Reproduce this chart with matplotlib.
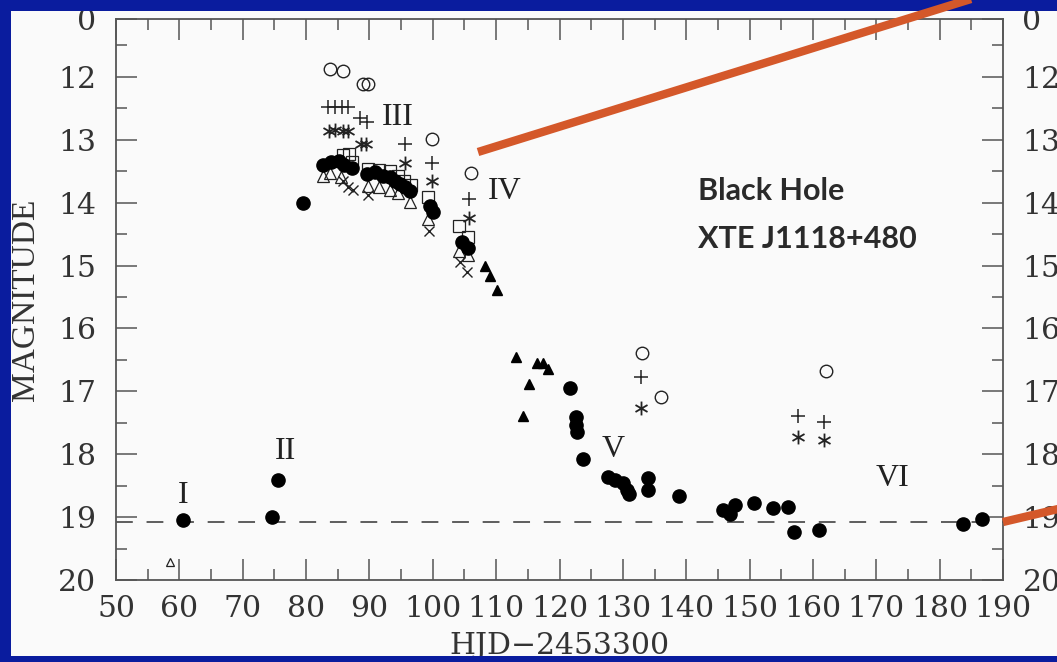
import numpy as np
import matplotlib
matplotlib.use("Agg")
import matplotlib.pyplot as plt
from matplotlib.path import Path
from matplotlib.patches import Rectangle
from matplotlib.lines import Line2D

# V band (filled circles)
v_hjd = [60.6, 74.6, 75.6, 79.5, 82.6, 84.0, 85.2, 86.0, 87.3, 89.6, 90.9, 92.1,
         93.2, 94.0, 94.8, 95.6, 96.4, 99.5, 100.0, 104.6, 105.6, 121.7, 122.6,
         122.6, 122.7, 123.7, 127.7, 128.8, 130.0, 130.6, 131.0, 134.0, 134.0,
         138.9, 145.8, 146.9, 147.7, 150.7, 153.7, 156.1, 157.0, 161.0, 183.7, 186.7]
v_mag = [19.05, 19.00, 18.41, 14.00, 13.40, 13.35, 13.33, 13.40, 13.45, 13.54, 13.52, 13.57,
         13.60, 13.65, 13.70, 13.75, 13.81, 14.05, 14.15, 14.62, 14.72, 16.95, 17.41,
         17.53, 17.65, 18.08, 18.36, 18.41, 18.46, 18.57, 18.63, 18.38, 18.57,
         18.67, 18.89, 18.95, 18.81, 18.78, 18.86, 18.84, 19.24, 19.21, 19.11, 19.03]

# other observers (filled triangles)
ft_hjd = [108.2, 109.1, 110.2, 113.1, 114.2, 115.2, 116.4, 117.4, 118.2]
ft_mag = [15.00, 15.17, 15.39, 16.45, 17.39, 16.88, 16.55, 16.55, 16.64]

# open circles
oc_hjd = [83.8, 85.8, 89.0, 89.8, 99.9, 106.0, 133.0, 136.0, 162.1]
oc_mag = [11.87, 11.90, 12.11, 12.11, 12.99, 13.53, 16.39, 17.09, 16.68]

# plus signs
pl_hjd = [83.5, 84.5, 85.6, 86.6, 88.5, 89.6, 95.6, 99.9, 105.7, 132.9, 157.6, 161.8]
pl_mag = [12.48, 12.48, 12.48, 12.48, 12.65, 12.72, 13.07, 13.37, 13.94, 16.78, 17.39, 17.49]

# asterisks
as_hjd = [83.6, 84.5, 85.8, 86.6, 88.6, 89.4, 95.6, 99.9, 105.7, 132.9, 157.6, 161.8]
as_mag = [12.86, 12.84, 12.86, 12.86, 13.07, 13.07, 13.37, 13.66, 14.24, 17.26, 17.72, 17.77]

# open squares
sq_hjd = [85.9, 86.8, 87.3, 89.8, 91.5, 93.2, 94.5, 95.5, 96.6, 99.2, 104.1, 105.6]
sq_mag = [13.25, 13.22, 13.35, 13.46, 13.48, 13.50, 13.58, 13.65, 13.72, 13.91, 14.37, 14.54]

# open triangles
ot_hjd = [82.7, 83.8, 85.5, 89.8, 91.5, 93.2, 94.5, 96.4, 99.3, 104.1, 105.6]
ot_mag = [13.57, 13.53, 13.60, 13.73, 13.75, 13.80, 13.85, 13.99, 14.26, 14.77, 14.84]

# crosses
xx_hjd = [85.8, 86.6, 87.4, 89.8, 99.4, 104.3, 105.4]
xx_mag = [13.66, 13.75, 13.80, 13.88, 14.45, 14.94, 15.10]

# early pre-outburst limit
lim_hjd = [58.5]
lim_mag = [19.71]

quiescent_mag = 19.08

stage_labels = ["I", "II", "III", "IV", "V", "VI"]
stage_hjd = [60.6, 76.7, 94.5, 111.4, 128.4, 172.6]
stage_mag = [18.65, 17.96, 12.65, 13.83, 17.93, 18.38]

y_ticks = [11.08, 12, 13, 14, 15, 16, 17, 18, 19, 20]
y_ticklabels = ["0", "12", "13", "14", "15", "16", "17", "18", "19", "20"]

W, H = 1057, 662
BLUE = "#0a1c9e"
ORANGE = "#d4582a"
INK = "#333333"
PAPER = "#fafafa"

# six-armed asterisk like the pgplot symbol
_a = np.deg2rad([90, 30, -30])
_verts, _codes = [], []
for a in _a:
    _verts += [(np.cos(a), np.sin(a)), (-np.cos(a), -np.sin(a))]
    _codes += [Path.MOVETO, Path.LINETO]
asterisk = Path(_verts, _codes)

fig = plt.figure(figsize=(W / 100, H / 100), dpi=100, facecolor=PAPER)
ax = fig.add_axes([116 / W, 82 / H, 887 / W, 561 / H], facecolor=PAPER)

ax.axhline(quiescent_mag, color=INK, lw=1.1, dashes=(11, 9), zorder=1)

ax.plot(sq_hjd, sq_mag, ls="none", marker="s", ms=8, mfc="none", mec="#222", mew=0.9)
ax.plot(ot_hjd, ot_mag, ls="none", marker="^", ms=8.5, mfc="none", mec="#222", mew=0.9)
ax.plot(xx_hjd, xx_mag, ls="none", marker="x", ms=7, mec="#222", mew=1.0)
ax.plot(v_hjd, v_mag, ls="none", marker="o", ms=9.5, mfc="black", mec="black")
ax.plot(oc_hjd, oc_mag, ls="none", marker="o", ms=9, mfc="none", mec="#222", mew=1.0)
ax.plot(pl_hjd, pl_mag, ls="none", marker="+", ms=10, mec="#222", mew=1.1)
ax.plot(as_hjd, as_mag, ls="none", marker=asterisk, ms=10, mec="#222", mew=1.3)
ax.plot(ft_hjd, ft_mag, ls="none", marker="^", ms=7.5, mfc="black", mec="black")
ax.plot(lim_hjd, lim_mag, ls="none", marker="^", ms=5.5, mfc="none", mec="#222", mew=0.9)

for lab, x, y in zip(stage_labels, stage_hjd, stage_mag):
    ax.text(x, y, lab, ha="center", va="center", family="Liberation Serif",
            fontsize=23, color="#222")

ax.set_xlim(50, 190)
ax.set_ylim(20, 11.08)
ax.set_xticks(np.arange(50, 191, 10))
ax.set_xticks(np.arange(55, 190, 10), minor=True)
ax.set_yticks(y_ticks)
ax.set_yticklabels(y_ticklabels)
ax.set_yticks(np.arange(11.5, 20, 1.0), minor=True)

for s in ax.spines.values():
    s.set_color("#555555")
    s.set_linewidth(1.3)

ax.tick_params(which="both", direction="in", top=True, right=True,
               color="#555555", width=1.1)
ax.tick_params(which="major", length=15)
ax.tick_params(which="minor", length=8)
ax.tick_params(axis="y", which="major", labelright=True, pad=14)
ax.tick_params(axis="x", which="major", pad=11)
for lab in ax.get_xticklabels() + ax.get_yticklabels():
    lab.set_family("DejaVu Serif")
    lab.set_fontsize(21.5)
    lab.set_color(INK)

ax.set_ylabel("MAGNITUDE", family="Liberation Serif", fontsize=24, color=INK)
ax.yaxis.set_label_coords(-0.085, 0.5)
ax.set_xlabel("HJD\u22122453300", family="DejaVu Serif", fontsize=21.5, color=INK)
ax.xaxis.set_label_coords(0.5, -0.093)

fig.text(698 / W, 1 - 200 / H, "Black Hole", family="Lato", weight="bold",
         fontsize=22, color="#2a2a2a", ha="left", va="baseline")
fig.text(698 / W, 1 - 248 / H, "XTE J1118+480", family="Lato", weight="bold",
         fontsize=22, color="#2a2a2a", ha="left", va="baseline")

# slide frame
for x0, y0, w, h in [(0, 0, 11, H), (0, 0, W, 11), (0, H - 6, W, 6)]:
    fig.patches.append(Rectangle((x0 / W, 1 - (y0 + h) / H), w / W, h / H,
                                 transform=fig.transFigure, facecolor=BLUE,
                                 edgecolor="none", zorder=10))

# callout strokes
for (x0, y0), (x1, y1) in [((478, 152), (1000, -10)), ((1003, 522), (1075, 505))]:
    fig.lines.append(Line2D([x0 / W, x1 / W], [1 - y0 / H, 1 - y1 / H],
                            transform=fig.transFigure, color=ORANGE, lw=6,
                            solid_capstyle="butt", zorder=11))

fig.savefig("out.png", dpi=100, facecolor=PAPER)
